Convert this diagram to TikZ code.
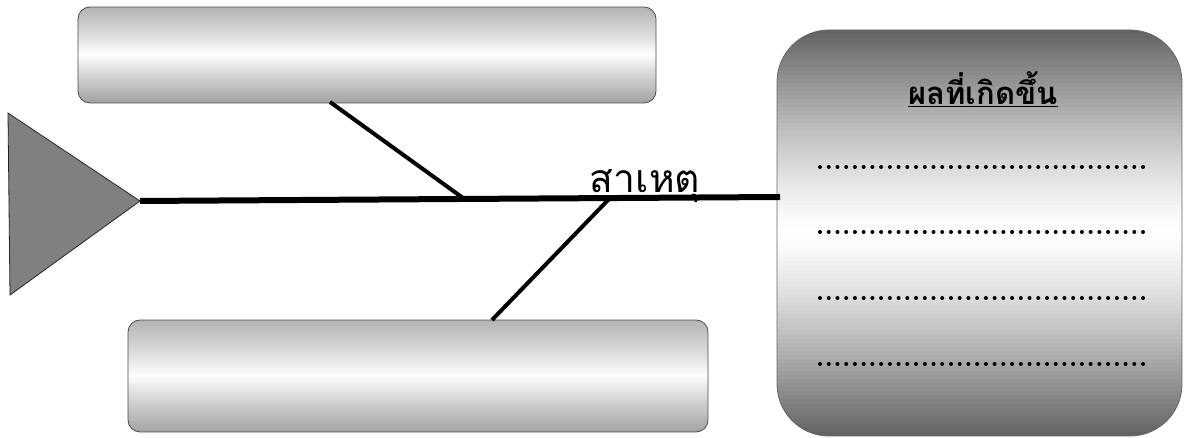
\documentclass[tikz,border=0pt]{standalone}
\usepackage{fontspec}
\newfontfamily\thaifont[Script=Thai]{Loma}
% vertical gradient fill inside a rounded rectangle:
% #1 x1, #2 y1, #3 x2, #4 y2, #5 radius, #6 top gray %, #7 bottom gray %, #8 power
\newcommand\mygradfill[8]{%
  \begin{scope}
  \clip[rounded corners=#5] (#1,#2) rectangle (#3,#4);
  \pgfmathsetmacro\hh{(#4-#2)/100}%
  \foreach \k in {0,...,99}{%
    \pgfmathsetmacro\f{(\k+0.5)/100}%
    \pgfmathsetmacro\a{pow(abs(2*\f-1),#8)}%
    \pgfmathsetmacro\g{\f<0.5 ? #7*\a : #6*\a}%
    \pgfmathsetmacro\ya{#2+\hh*\k}%
    \pgfmathsetmacro\yb{#2+\hh*(\k+1.2)}%
    \fill[black!\g] (#1,\ya) rectangle (#3,\yb);
  }
  \end{scope}}
\begin{document}
\begin{tikzpicture}[x=1pt,y=1pt,
  causebox/.style={draw=black!70, line width=0.8pt, rounded corners=12pt, inner sep=0pt},
  effectbox/.style={draw=black!60, line width=0.8pt, rounded corners=52pt, inner sep=0pt},
  bone/.style={line width=4pt, black},
  spine/.style={line width=6pt, black},
  dot/.style={fill=black}]
\useasboundingbox (0,0) rectangle (1188,438);
\fill[white] (0,0) rectangle (1188,438);
% head triangle (y measured from bottom: 438 - y)
\coordinate (t1) at (8,325);
\coordinate (t2) at (10,143);
\coordinate (tip) at (140,237);
\filldraw[fill=black!50, draw=black!85, line width=0.8pt] (t1) -- (tip) -- (t2) -- cycle;
% gradients
\mygradfill{78}{335}{656}{431}{12pt}{30}{36}{0.9}
\mygradfill{128}{6}{708}{118}{12pt}{30}{36}{0.9}
\mygradfill{777}{2}{1182}{408}{52pt}{62}{62}{1.3}
% boxes
\node[causebox, minimum width=578pt, minimum height=96pt] (topbox) at (367,383) {};
\node[causebox, minimum width=580pt, minimum height=112pt] (botbox) at (418,62) {};
\node[effectbox, minimum width=405pt, minimum height=406pt] (effect) at (979.5,205) {};
% spine
\coordinate (spineend) at (780,241);
\draw[spine] (tip) -- (spineend);
% bones
\coordinate (j1) at (463,240);
\coordinate (j2) at (610,240);
\coordinate (b1) at (330,336);
\coordinate (b2) at (492,118);
\draw[bone] (b1) -- (j1);
\draw[bone] (j2) -- (b2);
% label
\node[anchor=base, inner sep=0pt, font=\thaifont\fontsize{39}{41}\selectfont] (cause) at (645,245) {สาเหตุ};
% effect title
\node[anchor=base, inner sep=0pt, font=\thaifont\bfseries\fontsize{31}{33}\selectfont] (title) at (983,333) {\underline{ผลที่เกิดขึ้น}};
% dotted lines
\foreach \yy in {271,206,140,74}{
  \foreach \i in {0,...,37}{
    \fill[dot] (820+\i*8.73,\yy) circle (2pt);
  }
}
\end{tikzpicture}
\end{document}
